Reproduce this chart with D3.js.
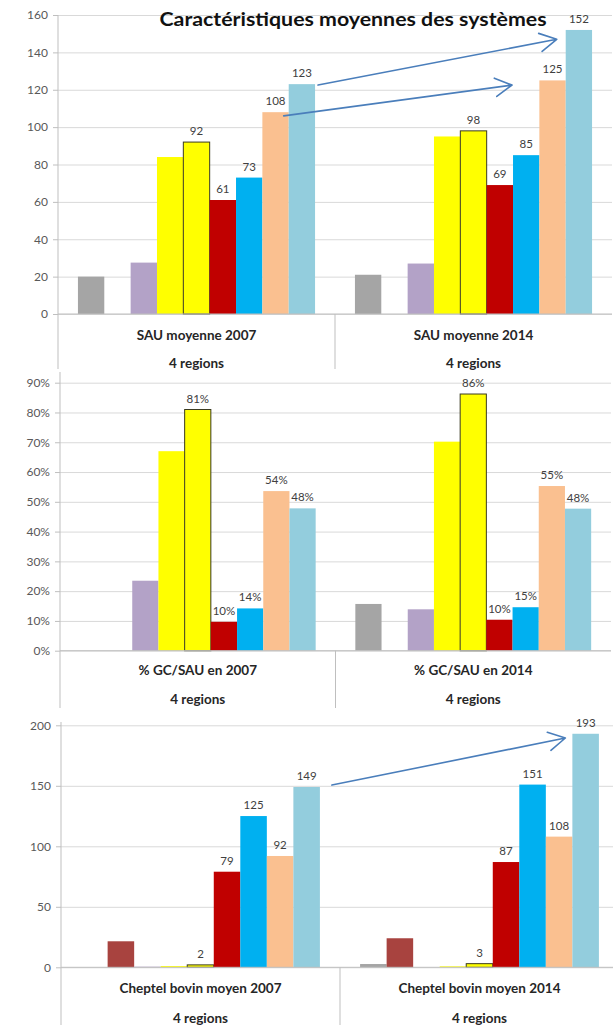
<!DOCTYPE html>
<html>
<head>
<meta charset="utf-8">
<script src="https://cdn.jsdelivr.net/npm/d3@7"></script>
<style>
  body { margin: 0; background: #fff; }
  svg { display: block; font-family: Lato, "Open Sans", sans-serif; }
</style>
</head>
<body>
<svg id="chart" width="613" height="1025"></svg>
<script>
// ---- Series (nine farm systems, same order in every panel) ----
const seriesColors   = ["#a5a5a5", "#a8433f", "#b3a2c7", "#ffff00", "#ffff00", "#c00000", "#00b0f0", "#fac090", "#93cddd"];
const seriesOutlined = [false, false, false, false, true, false, false, false, false];
const labeledSeries  = [4, 5, 6, 7, 8];

// ---- Panel 1: average UAA (ha) ----
const sauCategories = ["SAU moyenne 2007", "SAU moyenne 2014"];
const sau2007 = [20, 0, 27.5, 84, 92, 61, 73, 108, 123];
const sau2014 = [21, 0, 27, 95, 98, 69, 85, 125, 152];
const sauTicks = [0, 20, 40, 60, 80, 100, 120, 140, 160];

// ---- Panel 2: share of field crops in UAA ----
const gcCategories = ["% GC/SAU en 2007", "% GC/SAU en 2014"];
const gc2007 = [0, 0, 0.235, 0.67, 0.81, 0.097, 0.142, 0.536, 0.478];
const gc2014 = [0.157, 0, 0.139, 0.702, 0.862, 0.104, 0.146, 0.553, 0.477];
const gcTicks = [0, 0.1, 0.2, 0.3, 0.4, 0.5, 0.6, 0.7, 0.8, 0.9];

// ---- Panel 3: average cattle herd ----
const cheptelCategories = ["Cheptel bovin moyen 2007", "Cheptel bovin moyen 2014"];
const cheptel2007 = [0, 21.5, 0.5, 1, 2, 79, 125, 92, 149];
const cheptel2014 = [2.7, 24, 0, 0.8, 3, 87, 151, 108, 193];
const cheptelTicks = [0, 50, 100, 150, 200];

const subLabel = "4 regions";
const title = "Caractéristiques moyennes des systèmes";

// ---- Change arrows (from a 2007 bar to the matching 2014 bar) ----
const sauArrows = [
  { from: { cat: 0, series: 8, edge: 1, dx: 3,  value: 122.5 }, to: { cat: 1, series: 8, edge: 0, dx: -9, value: 147 } },
  { from: { cat: 0, series: 7, edge: 1, dx: -5, value: 106 },   to: { cat: 1, series: 6, edge: 0, dx: -1, value: 122.5 } }
];
const cheptelArrows = [
  { from: { cat: 0, series: 8, edge: 1, dx: 12, value: 150.6 }, to: { cat: 1, series: 8, edge: 0, dx: -7, value: 189.5 } }
];

// ---- Layout of the three stacked panels ----
const panels = [
  { categories: sauCategories, values: [sau2007, sau2014], ticks: sauTicks,
    tickFormat: d3.format("d"), labelFormat: d3.format(".0f"), arrows: sauArrows,
    frame: { left: 58, right: 612, top: 15, bottom: 314, axisTop: 15, sepBottom: 369, label1: 335, label2: 363 } },
  { categories: gcCategories, values: [gc2007, gc2014], ticks: gcTicks,
    tickFormat: d3.format(".0%"), labelFormat: d3.format(".0%"), arrows: [],
    frame: { left: 60, right: 611, top: 382.7, bottom: 650.7, axisTop: 372, sepBottom: 708, label1: 670, label2: 699 } },
  { categories: cheptelCategories, values: [cheptel2007, cheptel2014], ticks: cheptelTicks,
    tickFormat: d3.format("d"), labelFormat: d3.format(".0f"), arrows: cheptelArrows,
    frame: { left: 61, right: 619, top: 725.3, bottom: 967.3, axisTop: 722, sepBottom: 1030, label1: 988, label2: 1018 } }
];

const svg = d3.select("#chart");
const axisColor = "#bfbfbf";
const gridColor = "#d9d9d9";
const arrowColor = "#4a7ebb";

panels.forEach(p => {
  const f = p.frame;
  const g = svg.append("g");

  const x = d3.scaleBand().domain(p.categories).range([f.left, f.right]);
  const gap = x.bandwidth() * 0.072;
  const xs = d3.scaleBand().domain(d3.range(seriesColors.length)).range([gap, x.bandwidth() - gap]);
  const y = d3.scaleLinear().domain([0, d3.max(p.ticks)]).range([f.bottom, f.top]);

  // horizontal gridlines
  g.append("g")
    .attr("transform", `translate(${f.left},0)`)
    .call(d3.axisLeft(y).tickValues(p.ticks).tickSize(-(f.right - f.left)).tickFormat(""))
    .call(a => a.select(".domain").remove())
    .call(a => a.selectAll("line").attr("stroke", gridColor));

  // value axis ticks and labels
  g.append("g")
    .attr("transform", `translate(${f.left},0)`)
    .call(d3.axisLeft(y).tickValues(p.ticks).tickSizeInner(5).tickSizeOuter(0).tickPadding(5).tickFormat(p.tickFormat))
    .call(a => a.select(".domain").remove())
    .call(a => a.selectAll("line").attr("stroke", axisColor))
    .call(a => a.selectAll("text").attr("fill", "#595959").style("font-size", "12px").style("font-family", "Lato, sans-serif"));

  // bars
  p.values.forEach((vals, ci) => {
    const cx = x(p.categories[ci]);
    g.append("g").selectAll("rect")
      .data(vals.map((v, si) => ({ v, si })))
      .join("rect")
      .attr("x", d => cx + xs(d.si))
      .attr("width", xs.bandwidth())
      .attr("y", d => y(d.v))
      .attr("height", d => y(0) - y(d.v))
      .attr("fill", d => seriesColors[d.si])
      .attr("stroke", d => seriesOutlined[d.si] ? "#3a3a20" : "none")
      .attr("stroke-width", 1);

    // value labels
    g.append("g").selectAll("text")
      .data(labeledSeries.map(si => ({ v: vals[si], si })))
      .join("text")
      .attr("x", d => cx + xs(d.si) + xs.bandwidth() / 2)
      .attr("y", d => y(d.v) - 7)
      .attr("text-anchor", "middle")
      .attr("fill", "#404040")
      .style("font-size", "11.5px")
      .text(d => p.labelFormat(d.v));
  });

  // category axis: baseline, separators and labels
  g.append("line")
    .attr("x1", f.left).attr("x2", f.right)
    .attr("y1", y(0)).attr("y2", y(0))
    .attr("stroke", axisColor);
  g.append("line")
    .attr("x1", f.left).attr("x2", f.left)
    .attr("y1", f.axisTop).attr("y2", f.sepBottom)
    .attr("stroke", axisColor);
  g.selectAll(".sep")
    .data(p.categories.slice(1))
    .join("line")
    .attr("x1", d => x(d)).attr("x2", d => x(d))
    .attr("y1", y(0)).attr("y2", f.sepBottom)
    .attr("stroke", axisColor);

  p.categories.forEach(c => {
    const mx = x(c) + x.bandwidth() / 2;
    g.append("text")
      .attr("x", mx).attr("y", f.label1).attr("dy", "0.35em")
      .attr("text-anchor", "middle")
      .attr("fill", "#262626")
      .style("font-size", "13.5px").style("font-weight", "bold")
      .text(c);
    g.append("text")
      .attr("x", mx).attr("y", f.label2).attr("dy", "0.35em")
      .attr("text-anchor", "middle")
      .attr("fill", "#262626")
      .style("font-size", "13.5px").style("font-weight", "bold")
      .text(subLabel);
  });

  // arrows
  const pt = e => [x(p.categories[e.cat]) + xs(e.series) + e.edge * xs.bandwidth() + e.dx, y(e.value)];
  p.arrows.forEach(a => {
    const [x1, y1] = pt(a.from);
    const [x2, y2] = pt(a.to);
    const ang = Math.atan2(y2 - y1, x2 - x1);
    const len = 19, spread = 29 * Math.PI / 180;
    const path = d3.path();
    path.moveTo(x1, y1);
    path.lineTo(x2, y2);
    path.moveTo(x2 - len * Math.cos(ang - spread), y2 - len * Math.sin(ang - spread));
    path.lineTo(x2, y2);
    path.lineTo(x2 - len * Math.cos(ang + spread), y2 - len * Math.sin(ang + spread));
    g.append("path")
      .attr("d", path.toString())
      .attr("fill", "none")
      .attr("stroke", arrowColor)
      .attr("stroke-width", 1.6)
      .attr("stroke-linejoin", "round")
      .attr("stroke-linecap", "round");
  });
});

// title (slightly wide setting)
svg.append("text")
  .attr("x", 353).attr("y", 26)
  .attr("text-anchor", "middle")
  .attr("textLength", 387)
  .attr("lengthAdjust", "spacingAndGlyphs")
  .attr("fill", "#111")
  .style("font-size", "19px").style("font-weight", "bold")
  .text(title);
</script>
</body>
</html>
